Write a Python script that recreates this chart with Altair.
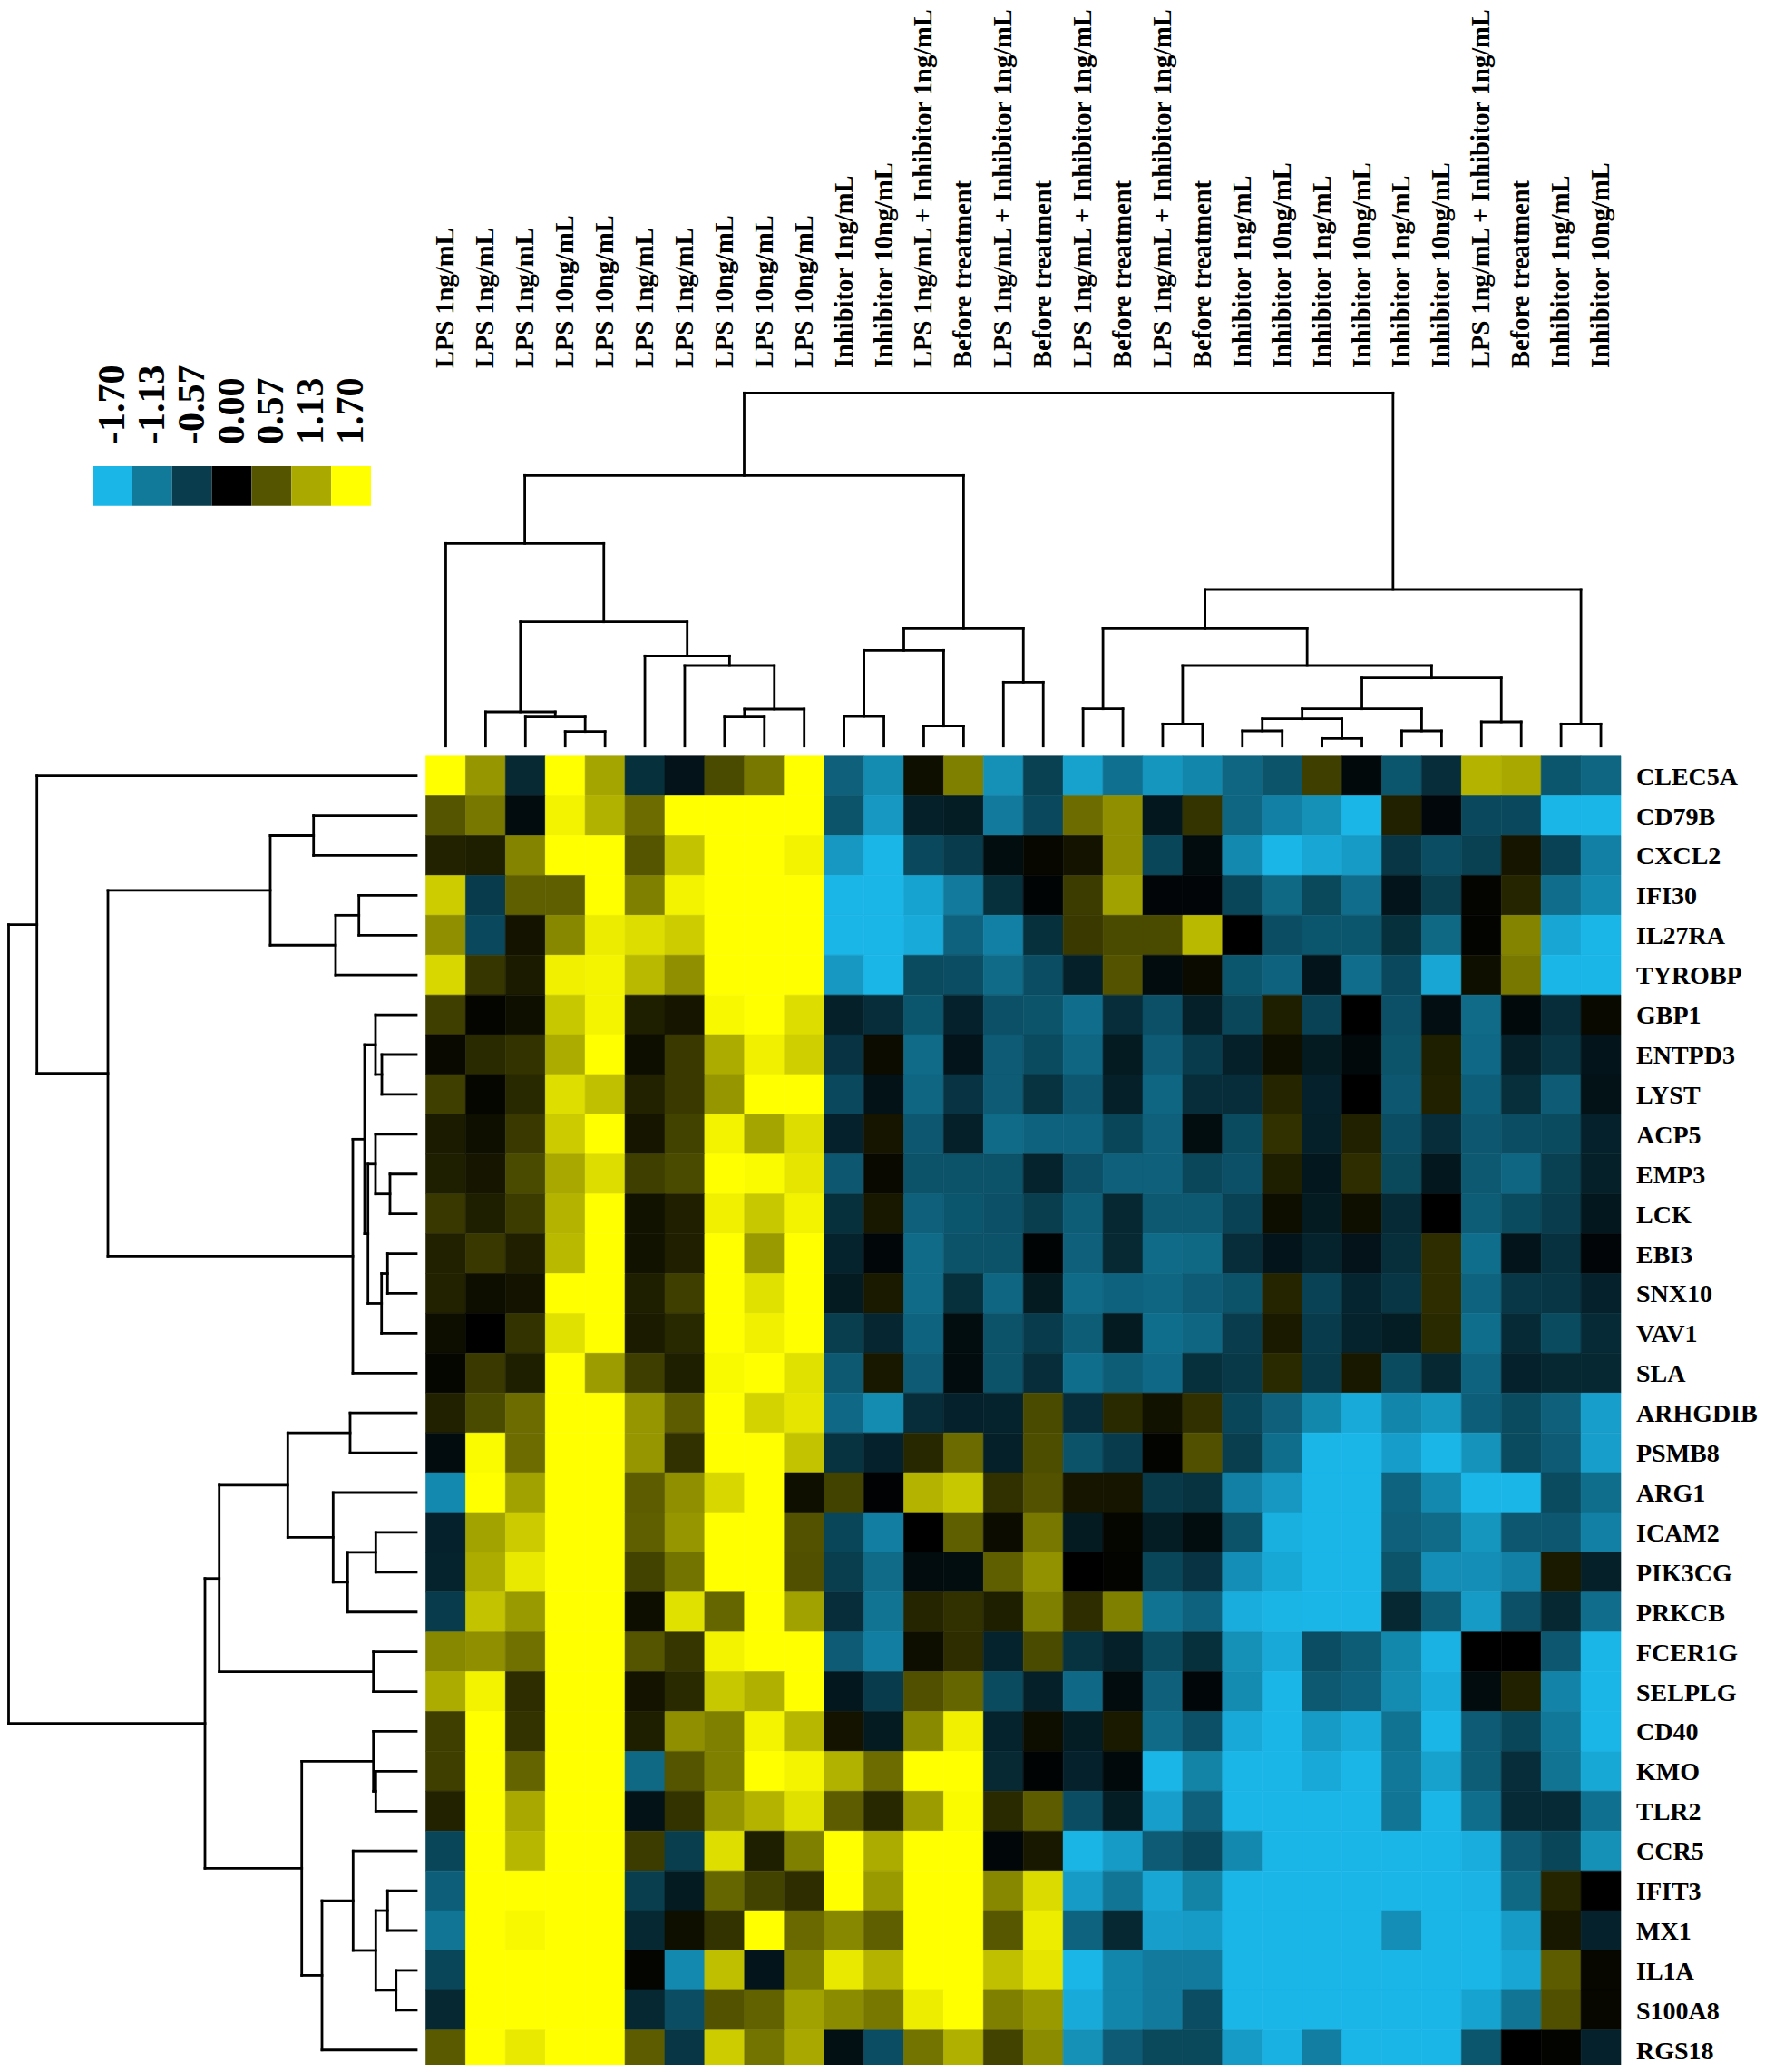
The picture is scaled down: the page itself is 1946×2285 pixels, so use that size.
import altair as alt
import pandas as pd

GENES = ["CLEC5A","CD79B","CXCL2","IFI30","IL27RA","TYROBP","GBP1","ENTPD3","LYST","ACP5","EMP3","LCK","EBI3",
         "SNX10","VAV1","SLA","ARHGDIB","PSMB8","ARG1","ICAM2","PIK3CG","PRKCB","FCER1G","SELPLG","CD40","KMO",
         "TLR2","CCR5","IFIT3","MX1","IL1A","S100A8","RGS18"]
LPS1, LPS10, INH1, INH10 = "LPS 1ng/mL", "LPS 10ng/mL", "Inhibitor 1ng/mL", "Inhibitor 10ng/mL"
COMBO, BEFORE = "LPS 1ng/mL + Inhibitor 1ng/mL", "Before treatment"
SAMPLES = [LPS1, LPS1, LPS1, LPS10, LPS10, LPS1, LPS1, LPS10, LPS10, LPS10, INH1, INH10, COMBO, BEFORE, COMBO,
           BEFORE, COMBO, BEFORE, COMBO, BEFORE, INH1, INH10, INH1, INH10, INH1, INH10, COMBO, BEFORE, INH1, INH10]
LEGEND_VALUES = [-1.70, -1.13, -0.57, 0.00, 0.57, 1.13, 1.70]

CLEC5A = [1.7,1.0,-.38,1.7,1.1,-.45,-.18,.5,.8,1.7,-.9,-1.3,.1,.85,-1.35,-.6,-1.5,-1.05,-1.4,-1.25,-.95,-.78,.42,-.08,-.8,-.42,1.2,1.12,-.8,-.95]
CD79B = [.57,.8,-.1,1.62,1.18,.72,1.7,1.7,1.7,1.7,-.78,-1.42,-.3,-.27,-1.15,-.68,.72,.95,-.22,.35,-.95,-1.2,-1.35,-1.7,.22,-.07,-.68,-.68,-1.7,-1.7]
CXCL2 = [.23,.2,.88,1.7,1.7,.57,1.3,1.7,1.7,1.62,-1.42,-1.7,-.68,-.55,-.12,.05,.13,.95,-.65,-.1,-1.28,-1.7,-1.55,-1.45,-.5,-.72,-.6,.15,-.62,-1.2]
IFI30 = [1.36,-.55,.63,.63,1.7,.85,1.62,1.7,1.7,1.7,-1.7,-1.7,-1.52,-1.15,-.45,-.04,.4,1.07,-.05,-.05,-.65,-.97,-.67,-1.02,-.2,-.58,.03,.25,-1.02,-1.28]
IL27RA = [.95,-.68,.13,.9,1.57,1.47,1.36,1.7,1.7,1.7,-1.7,-1.7,-1.6,-.92,-1.2,-.45,.38,.5,.5,1.23,0,-.72,-.8,-.8,-.45,-.97,.02,.88,-1.55,-1.7]
TYROBP = [1.44,.36,.18,1.6,1.63,1.23,.95,1.7,1.7,1.7,-1.42,-1.7,-.7,-.72,-1.0,-.72,-.3,.56,-.1,.07,-.8,-.92,-.2,-1.02,-.68,-1.55,.1,.8,-1.7,-1.7]
GBP1 = [.42,.03,.1,1.33,1.63,.2,.15,1.65,1.7,1.47,-.3,-.42,-.8,-.32,-.75,-.78,-1.02,-.42,-.75,-.3,-.66,.2,-.62,0,-.75,-.13,-1.0,-.08,-.42,.06]
ENTPD3 = [.06,.28,.34,1.15,1.7,.09,.38,1.14,1.6,1.38,-.48,.08,-1.0,-.2,-.85,-.7,-.95,-.25,-.85,-.55,-.3,.1,-.25,-.08,-.78,.2,-.98,-.3,-.5,-.2]
LYST = [.42,.04,.27,1.48,1.28,.23,.38,1.0,1.7,1.7,-.68,-.17,-.95,-.48,-.85,-.47,-.82,-.3,-.95,-.42,-.42,.25,-.32,0,-.82,.22,-.88,-.43,-.85,-.17]
ACP5 = [.18,.1,.38,1.35,1.7,.14,.45,1.62,1.1,1.47,-.32,.14,-.82,-.3,-1.0,-.92,-.92,-.65,-.9,-.12,-.7,.33,-.3,.22,-.72,-.42,-.82,-.72,-.7,-.32]
EMP3 = [.2,.14,.5,1.12,1.47,.42,.5,1.7,1.67,1.53,-.82,.06,-.77,-.77,-.77,-.33,-.75,-.9,-.9,-.66,-.75,.2,-.22,.3,-.67,-.22,-.83,-.95,-.6,-.3]
LCK = [.37,.2,.4,1.2,1.7,.12,.21,1.6,1.33,1.62,-.45,.16,-.9,-.8,-.75,-.58,-.87,-.37,-.83,-.83,-.62,.09,-.25,.1,-.4,0,-.87,-.7,-.57,-.22]
EBI3 = [.22,.37,.21,1.23,1.7,.12,.21,1.7,1.02,1.7,-.33,-.06,-1.0,-.77,-.77,-.04,-.9,-.38,-1.0,-.97,-.42,-.2,-.33,-.18,-.43,.3,-1.03,-.2,-.46,-.05]
SNX10 = [.23,.09,.13,1.7,1.7,.2,.42,1.7,1.5,1.7,-.25,.17,-1.0,-.45,-.95,-.25,-1.0,-.92,-.95,-.85,-.77,.25,-.62,-.35,-.5,.3,-.93,-.52,-.5,-.32]
VAV1 = [.09,0,.34,1.5,1.7,.18,.27,1.7,1.6,1.7,-.58,-.36,-.93,-.12,-.77,-.55,-.87,-.25,-1.03,-.95,-.57,.17,-.55,-.33,-.27,.28,-1.03,-.4,-.7,-.4]
SLA = [.04,.38,.2,1.7,1.04,.41,.2,1.66,1.7,1.5,-.83,.16,-.85,-.1,-.77,-.42,-1.03,-.87,-.98,-.45,-.53,.28,-.53,.16,-.7,-.37,-.93,-.32,-.37,-.37]
ARHGDIB = [.22,.5,.72,1.7,1.7,1.0,.62,1.7,1.41,1.53,-.98,-1.3,-.42,-.32,-.33,.5,-.42,.28,.12,.32,-.65,-.9,-1.27,-1.6,-1.25,-1.4,-.88,-.7,-.9,-1.48]
PSMB8 = [-.1,1.67,.72,1.7,1.7,1.0,.33,1.7,1.7,1.3,-.47,-.32,.26,.71,-.3,.52,-.77,-.55,.02,.53,-.58,-1.03,-1.7,-1.7,-1.47,-1.7,-1.37,-.7,-.85,-1.48]
ARG1 = [-1.28,1.7,1.07,1.7,1.7,.62,.95,1.44,1.7,.1,.45,-.02,1.2,1.33,.33,.55,.14,.14,-.53,-.47,-1.2,-1.42,-1.7,-1.7,-.93,-1.28,-1.7,-1.7,-.7,-1.03]
ICAM2 = [-.32,1.09,1.35,1.7,1.7,.63,1.0,1.7,1.7,.55,-.65,-1.18,0,.63,.08,.8,-.25,.04,-.27,-.12,-.77,-1.63,-1.7,-1.7,-.9,-1.0,-1.4,-.82,-.82,-1.2]
PIK3CG = [-.33,1.14,1.55,1.7,1.7,.45,.77,1.7,1.7,.53,-.58,-1.0,-.1,-.12,.63,.97,0,.02,-.65,-.48,-1.33,-1.57,-1.7,-1.7,-.78,-1.33,-1.33,-1.2,.17,-.3]
PRKCB = [-.55,1.3,1.02,1.7,1.7,.09,1.5,.68,1.7,1.07,-.42,-1.08,.25,.33,.2,.85,.3,.85,-1.07,-.92,-1.62,-1.68,-1.7,-1.7,-.37,-.87,-1.45,-.75,-.37,-1.02]
FCER1G = [.9,.95,.75,1.7,1.7,.57,.36,1.62,1.7,1.7,-.85,-1.18,.09,.3,-.33,.5,-.47,-.3,-.7,-.45,-1.35,-1.58,-.72,-.87,-1.27,-1.66,0,0,-.82,-1.7]
SELPLG = [1.15,1.62,.3,1.7,1.7,.13,.28,1.33,1.17,1.7,-.22,-.55,.53,.68,-.7,-.3,-.98,-.1,-.9,-.06,-1.3,-1.7,-.83,-.92,-1.3,-1.6,-.1,.22,-1.23,-1.7]
CD40 = [.42,1.7,.34,1.7,1.7,.2,.95,.85,1.63,1.22,.13,-.25,.92,1.6,-.33,.09,-.27,.17,-1.0,-.75,-1.58,-1.7,-1.45,-1.6,-1.07,-1.7,-.85,-.65,-1.12,-1.7]
KMO = [.42,1.7,.67,1.7,1.7,-.97,.57,.85,1.7,1.63,1.18,.72,1.7,1.7,-.38,-.03,-.32,-.08,-1.7,-1.22,-1.7,-1.7,-1.58,-1.7,-1.12,-1.5,-.87,-.42,-1.08,-1.57]
TLR2 = [.23,1.7,1.12,1.7,1.7,-.17,.34,1.0,1.2,1.5,.62,.26,1.04,1.67,.28,.62,-.72,-.27,-1.48,-.9,-1.7,-1.7,-1.7,-1.7,-1.1,-1.7,-1.03,-.4,-.4,-1.05]
CCR5 = [-.65,1.7,1.22,1.7,1.7,.4,-.58,1.48,.2,.85,1.7,1.15,1.7,1.7,-.06,.16,-1.68,-1.45,-.85,-.68,-1.28,-1.7,-1.7,-1.7,-1.7,-1.7,-1.62,-.85,-.65,-1.35]
IFIT3 = [-.88,1.7,1.7,1.7,1.7,-.58,-.25,.68,.45,.3,1.7,1.02,1.7,1.7,.9,1.46,-1.45,-1.1,-1.55,-1.22,-1.7,-1.7,-1.7,-1.7,-1.7,-1.7,-1.67,-.97,.25,0]
MX1 = [-1.1,1.7,1.65,1.7,1.7,-.37,.1,.34,1.7,.7,.9,.63,1.7,1.7,.58,1.58,-.93,-.37,-1.48,-1.45,-1.7,-1.7,-1.7,-1.7,-1.33,-1.7,-1.7,-1.45,.16,-.32]
IL1A = [-.65,1.7,1.7,1.7,1.7,.03,-1.28,1.27,-.2,.85,1.55,1.2,1.7,1.7,1.28,1.53,-1.7,-1.25,-1.15,-1.15,-1.7,-1.7,-1.7,-1.7,-1.7,-1.7,-1.7,-1.55,.62,.05]
S100A8 = [-.37,1.7,1.7,1.7,1.7,-.37,-.72,.55,.65,1.07,.93,.8,1.58,1.7,.85,1.02,-1.6,-1.25,-1.15,-.72,-1.7,-1.7,-1.7,-1.7,-1.7,-1.7,-1.52,-1.1,.53,.05]
RGS18 = [.6,1.7,1.55,1.7,1.7,.62,-.5,1.36,.77,1.12,-.15,-.72,.77,1.17,.45,.93,-1.35,-.85,-.67,-.67,-1.45,-1.65,-1.18,-1.7,-1.7,-1.7,-.8,0,.02,-.32]
HEATMAP = [CLEC5A,CD79B,CXCL2,IFI30,IL27RA,TYROBP,GBP1,ENTPD3,LYST,ACP5,EMP3,LCK,EBI3,SNX10,VAV1,SLA,ARHGDIB,PSMB8,
           ARG1,ICAM2,PIK3CG,PRKCB,FCER1G,SELPLG,CD40,KMO,TLR2,CCR5,IFIT3,MX1,IL1A,S100A8,RGS18]

# Dendrograms: (merge height, left child, right child); an int is a leaf (row or column index).
GENE_TREE = (449.5,
    (418.3, 0,
        (340,
            (161, (113.3, 1, 2), (89, (63.3, 3, 4), 5)),
            (70,
                (57,
                    (45, 6, (38, 7, 8)),
                    (53.3, (45, 9, (29, 10, 11)), (38.3, (31.7, 12, 13), 14))),
                15))),
    (233,
        (217.3,
            (141.7, (73, 16, 17), (91.7, 18, (75.7, (44.7, 19, 20), 21))),
            (47.3, 22, 23)),
        (126.3,
            (47.3, 24, (44.7, 25, 26)),
            (104,
                (69.7, 27, (44.7, (31.7, 28, 29), (22.3, 30, 31))),
                32))))
SAMPLE_TREE = (389.4,
    (298.4,
        (223.4, 0,
            (137,
                (37.7, 1, (32, 2, (16, 3, 4))),
                (99.4, 5, (88.7, 6, (40.7, (32, 7, 8), 9))))),
        (129.4,
            (105.4, (32.7, 10, 11), (22, 12, 13)),
            (70.4, 14, 15))),
    (172.7,
        (129.4,
            (41, 16, 17),
            (88.7,
                (24.4, 18, 19),
                (75,
                    (41,
                        (30, (16.7, 20, 21), (8.4, 22, 23)),
                        (16.7, 24, 25)),
                    (26.7, 26, 27)))),
        (24.4, 28, 29)))


def segments(node, out):
    """Returns (leaf-axis position, height) of a node and appends its bracket to out."""
    if isinstance(node, int):
        return node, 0.0
    h, a, b = node
    pa, ha = segments(a, out)
    pb, hb = segments(b, out)
    out.append(dict(p1=pa, p2=pa, h1=ha, h2=h))
    out.append(dict(p1=pb, p2=pb, h1=hb, h2=h))
    out.append(dict(p1=pa, p2=pb, h1=h, h2=h))
    return (pa + pb) / 2, h


gene_segs, sample_segs = [], []
segments(GENE_TREE, gene_segs)
segments(SAMPLE_TREE, sample_segs)

heat = pd.DataFrame([dict(row=r, r0=r - .5, r1=r + .5, col=c, c0=c - .5, c1=c + .5, value=v)
                     for r, vals in enumerate(HEATMAP) for c, v in enumerate(vals)])
genes = pd.DataFrame(dict(row=range(len(GENES)), gene=GENES))
samples = pd.DataFrame(dict(col=range(len(SAMPLES)), sample=SAMPLES))
legend = pd.DataFrame([dict(i=i, i0=i - .5, i1=i + .5, value=v, label=f"{v:.2f}") for i, v in enumerate(LEGEND_VALUES)])

col_scale = alt.Scale(domain=[-.5, 29.5], range=[461.5, 1779], nice=False, zero=False)
row_scale = alt.Scale(domain=[-.5, 32.5], range=[825.7, 2274.7], nice=False, zero=False)
top_scale = alt.Scale(domain=[0, 389.4], range=[814.7, 425.3], nice=False, zero=False)
left_scale = alt.Scale(domain=[0, 456], range=[451, -5], nice=False, zero=False)
leg_scale = alt.Scale(domain=[-.5, 6.5], range=[94, 401], nice=False, zero=False)
color_scale = alt.Scale(domain=[-1.7, 0, 1.7], range=["#1AB6E8", "#000000", "#FFFF00"], interpolate="rgb", clamp=True)
color = alt.Color("value:Q", scale=color_scale, legend=None)
stroke = alt.Stroke("value:Q", scale=color_scale, legend=None)
FONT = "Liberation Serif"

heat_layer = alt.Chart(heat).mark_rect(strokeWidth=0.6).encode(
    x=alt.X("c0:Q", scale=col_scale, axis=None), x2="c1:Q",
    y=alt.Y("r0:Q", scale=row_scale, axis=None), y2="r1:Q", color=color, stroke=stroke)

top_layer = alt.Chart(pd.DataFrame(sample_segs)).mark_rule(color="black", strokeWidth=2.8, strokeCap="square").encode(
    x=alt.X("p1:Q", scale=col_scale, axis=None), x2="p2:Q",
    y=alt.Y("h1:Q", scale=top_scale, axis=None), y2="h2:Q")

left_layer = alt.Chart(pd.DataFrame(gene_segs)).mark_rule(color="black", strokeWidth=2.8, strokeCap="square").encode(
    x=alt.X("h1:Q", scale=left_scale, axis=None), x2="h2:Q",
    y=alt.Y("p1:Q", scale=row_scale, axis=None), y2="p2:Q")

row_labels = alt.Chart(genes).mark_text(font=FONT, fontWeight="bold", fontSize=28, align="left", baseline="middle", color="black", dy=2).encode(
    x=alt.value(1796), y=alt.Y("row:Q", scale=row_scale, axis=None), text="gene:N")

col_labels = alt.Chart(samples).mark_text(font=FONT, fontWeight="bold", fontSize=28.5, angle=270, align="left", baseline="middle", color="black", dx=1).encode(
    x=alt.X("col:Q", scale=col_scale, axis=None), y=alt.value(399), text="sample:N")

leg_rect = alt.Chart(legend).mark_rect(stroke=None).encode(
    x=alt.X("i0:Q", scale=leg_scale, axis=None), x2="i1:Q",
    y=alt.value(506), y2=alt.value(549.7), color=color)

leg_text = alt.Chart(legend).mark_text(font=FONT, fontWeight="bold", fontSize=42, angle=270, align="left", baseline="middle", color="black").encode(
    x=alt.X("i:Q", scale=leg_scale, axis=None), y=alt.value(482), text="label:N")

chart = alt.layer(heat_layer, top_layer, left_layer, row_labels, col_labels, leg_rect, leg_text).resolve_scale(
    x="independent", y="independent", color="shared", stroke="shared"
).properties(
    width=1930, height=2269, padding=0, autosize=alt.AutoSizeParams(type="none")
).configure_view(stroke=None)

chart.save("out.html", embed_options={"renderer": "svg", "actions": False})
